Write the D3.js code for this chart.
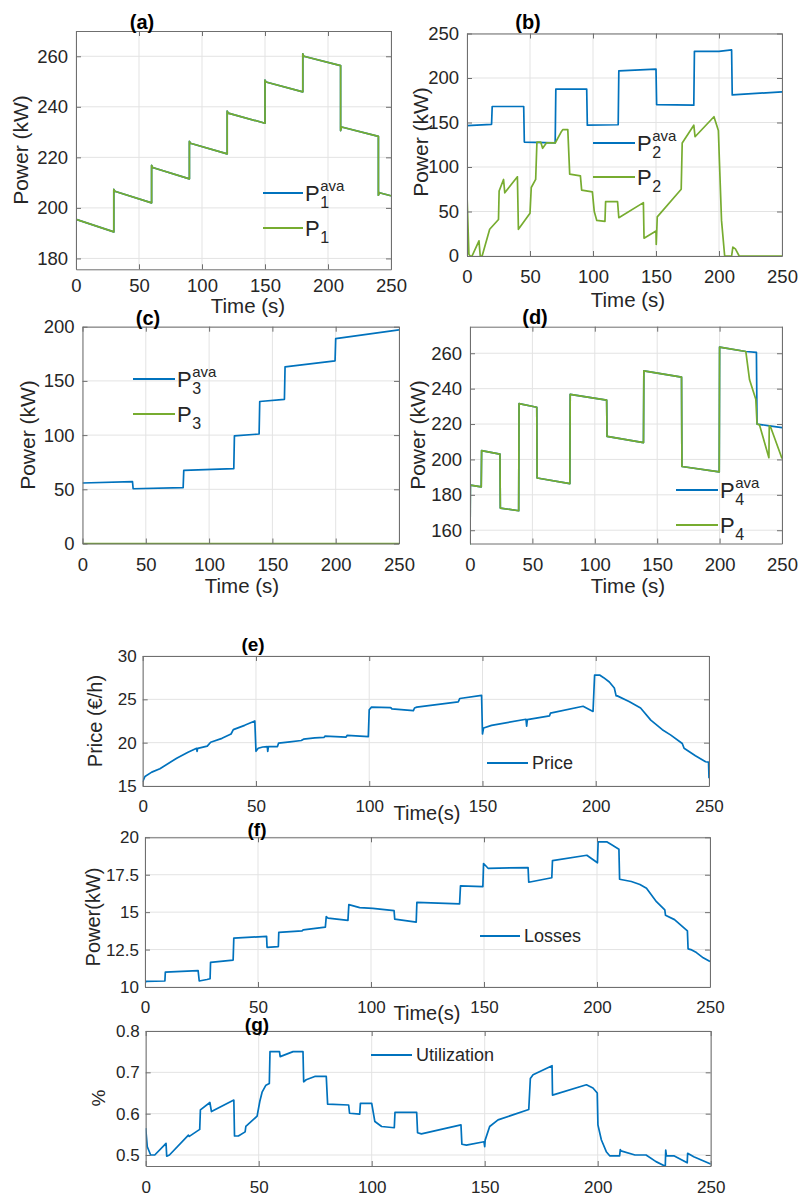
<!DOCTYPE html>
<html>
<head>
<meta charset="utf-8">
<script src="https://cdn.jsdelivr.net/npm/d3@7"></script>
<style>
  body { margin: 0; background: #fff; }
  svg text { font-family: "Liberation Sans", Arial, Helvetica, sans-serif; fill: #262626; }
</style>
</head>
<body>
<svg id="chart" width="798" height="1197"></svg>
<script>
// ---- data (time in s, value) ----
const xTicks = [0, 50, 100, 150, 200, 250];

const yTicksA = [180, 200, 220, 240, 260];
const yTicksB = [0, 50, 100, 150, 200, 250];
const yTicksC = [0, 50, 100, 150, 200];
const yTicksD = [160, 180, 200, 220, 240, 260];
const yTicksE = [15, 20, 25, 30];
const yTicksF = [10, 12.5, 15, 17.5, 20];
const yTicksG = [0.5, 0.6, 0.7, 0.8];

const p1Ava = [[0,195.5],[30,190.5],[30,207.3],[30.8,206.6],[60,202],[60,216.8],[60.8,216],[90,211.5],[90,226.3],[90.8,225.6],[120,221.4],[120,238.3],[120.8,237.5],[150,233.5],[150,250.6],[150.8,249.8],[180,245.9],[180,261],[180.8,260],[210,256.3],[210,230.6],[210.8,232],[240,228.3],[240,205],[240.8,206],[250,204.8]];
const p1 = [[0,195.5],[30,190.5],[30,207.3],[30.8,206.6],[60,202],[60,216.8],[60.8,216],[90,211.5],[90,226.3],[90.8,225.6],[120,221.4],[120,238.3],[120.8,237.5],[150,233.5],[150,250.6],[150.8,249.8],[180,245.9],[180,261],[180.8,260],[210,256.3],[210,230.6],[210.8,232],[240,228.3],[240,205],[240.8,206],[250,204.8]];

const p2Ava = [[0,146.5],[19.5,148],[20,168],[45,168],[45.5,128],[70,127],[70.5,187.5],[95,187.5],[95.5,147],[120,147.5],[120.5,208],[150,210],[150.5,170],[180,169.5],[180.5,230],[200,230],[210,231.5],[210.5,181],[250,184.5]];
const p2 = [[0,70],[1.5,2],[2.5,0],[4,0],[9.5,17],[10.5,0],[12,0],[18,30],[25,41],[25.5,73],[29,86],[30,71],[40,89],[40.8,30],[50,48],[51,77],[54.5,86],[55.5,128],[58.5,128],[60,121],[63,127],[70,127],[75,140],[76,142],[80,142],[81.5,92],[90,90],[91,74],[99.5,72],[101,50],[103,40],[109.5,39],[110,61],[119.5,61],[120.5,43],[140,60],[140.5,20],[150,28],[150.2,13],[151,44],[170,75],[170.8,127],[180,147],[181,134],[196,156.5],[199.5,141],[200.5,100],[202,40],[204.5,0],[210,0],[211,10],[213,8],[216,0],[250,0]];

const p3Ava = [[0,55.8],[39.5,57],[40,50.5],[79.5,51.5],[80,67.5],[119.5,69],[120,99.3],[139.5,101],[140,131],[159.5,133],[160,163],[199.5,168.5],[200,189],[250,197]];
const p3 = [[0,0],[250,0]];

const p4Ava = [[0,150],[0.3,185.5],[9,184.5],[9.3,205],[24,203],[24.3,172.5],[39,171],[39.3,231.5],[53.5,229.5],[53.8,189.5],[80,186.3],[80.3,236.8],[109.5,233.5],[109.8,213],[139,209.5],[139.3,250],[169.5,246.5],[169.8,196],[199.7,193],[200,263.5],[221,261],[229.5,260.5],[230,220],[240,219],[250,218]];
const p4 = [[0,150],[0.3,185.5],[9,184.5],[9.3,205],[24,203],[24.3,172.5],[39,171],[39.3,231.5],[53.5,229.5],[53.8,189.5],[80,186.3],[80.3,236.8],[109.5,233.5],[109.8,213],[139,209.5],[139.3,250],[169.5,246.5],[169.8,196],[199.7,193],[200,263.5],[221,261],[224,245],[229,234],[230,220],[232,219.5],[239.5,201],[239.8,219],[241,218],[250,200.5]];

const price = [[0,15.5],[1,16.1],[4,16.6],[7.6,17.0],[15,18.2],[20,18.9],[23.8,19.35],[24,19.0],[24.3,19.35],[28.5,19.6],[30,20.05],[35,20.5],[39,21.0],[40,21.5],[45,22.0],[49.5,22.5],[50,19.0],[51,19.35],[53,19.5],[55,19.55],[55.2,19.0],[55.5,19.55],[59.5,19.55],[60,19.95],[65,20.1],[70,20.25],[71,20.4],[76,20.55],[80,20.6],[80.5,20.75],[89.8,20.65],[90.3,20.85],[99.6,20.7],[100,23.8],[101,24.1],[109.5,24.05],[110,23.9],[119.5,23.7],[120,24.0],[121,24.1],[139.3,24.7],[140,25.1],[149.6,25.45],[150,21.0],[150.5,21.7],[154,22.0],[169.2,22.7],[169.5,21.9],[169.8,22.65],[179.6,23.1],[180,23.4],[194.4,24.2],[198.8,23.6],[199.5,27.8],[201.7,27.8],[203.5,27.5],[206,27.0],[208.2,26.3],[209,25.4],[209.5,25.4],[214.7,24.75],[219.8,24.0],[224.3,22.6],[229.4,21.5],[233,20.9],[238.2,19.9],[239,19.35],[244,18.5],[248.5,17.8],[249.8,17.75],[250,15.9]];

const losses = [[0,10.2],[0.3,10.37],[8.8,10.4],[9,11.0],[23.5,11.1],[24,10.4],[27.4,10.5],[28.8,10.55],[29,11.64],[39,11.8],[39.3,13.27],[53.8,13.38],[54,12.65],[59,12.7],[59.2,13.65],[69.5,13.75],[70,13.82],[79.8,14.0],[80.2,14.7],[81,14.6],[89.8,14.45],[90.2,15.5],[95,15.3],[100.8,15.25],[110.2,15.1],[110.5,14.53],[120,14.33],[120.3,15.65],[139.2,15.55],[139.6,16.76],[149.5,16.7],[149.8,18.25],[151.8,17.93],[169.5,17.98],[169.8,17.0],[180,17.3],[180.3,18.44],[195.5,18.8],[200.2,18.3],[200.5,19.7],[204.3,19.7],[206.5,19.5],[209.7,19.2],[210,17.2],[215.2,17.05],[219,16.85],[221.9,16.6],[226.3,15.7],[230,15.15],[230.3,14.8],[234.3,14.5],[240,13.75],[240.3,12.55],[241.5,12.5],[244,12.3],[247,11.95],[250,11.7]];

const utilization = [[0,0.565],[0.7,0.52],[2.2,0.5],[4,0.5],[9,0.528],[9.3,0.497],[10.5,0.5],[18.9,0.548],[19.3,0.545],[23.9,0.562],[24.2,0.609],[28.4,0.627],[29.1,0.605],[39,0.633],[39.3,0.546],[41,0.546],[44,0.556],[44.3,0.569],[49.3,0.594],[50.5,0.63],[51.5,0.652],[53.2,0.669],[54.7,0.673],[55,0.75],[59.2,0.75],[59.5,0.738],[65.2,0.75],[69.6,0.75],[69.9,0.677],[71,0.682],[74.8,0.69],[79.9,0.69],[80.5,0.623],[89.8,0.621],[90.2,0.601],[94.7,0.599],[95,0.625],[100,0.625],[101.4,0.581],[104.4,0.569],[110,0.566],[110.3,0.603],[119.9,0.603],[120.3,0.554],[122,0.551],[139.5,0.573],[139.9,0.526],[141.9,0.524],[149.7,0.532],[150,0.52],[150.2,0.536],[152.2,0.569],[155.9,0.585],[169.5,0.61],[170.2,0.685],[171.4,0.694],[179.8,0.716],[180,0.645],[195,0.67],[197.9,0.662],[199.8,0.65],[200.1,0.573],[201.6,0.537],[203.8,0.508],[205.3,0.498],[209.7,0.498],[210,0.513],[210.3,0.51],[216.5,0.5],[221.4,0.5],[225.8,0.484],[229.9,0.473],[230.1,0.512],[230.4,0.498],[233.7,0.498],[239.6,0.481],[239.8,0.504],[242.5,0.496],[249.2,0.48],[250,0.478]];

const blue = "#0072BD",
  green = "#77AC30";

// ---- layout of the seven panels ----
const panels = [
  {
    id: "a", box: [76, 31, 391, 269.3], yDomain: [175.7, 270], yTicks: yTicksA,
    tickSize: 18.5, xPad: 10, yPad: 8,
    title: { text: "(a)", x: 142, y: 22, size: 20 },
    yLabel: { text: "Power (kW)", x: 20, y: 150, size: 21 },
    xLabel: { text: "Time (s)", x: 248, y: 305, size: 20.5 },
    series: [{ data: p1Ava, color: blue }, { data: p1, color: green }],
    legend: { x: 263, y: 193, dy: 35, len: 40, items: [
      { name: "P", sup: "ava", sub: "1", color: blue },
      { name: "P", sub: "1", color: green }] },
  },
  {
    id: "b", box: [467, 33.5, 782, 256], yDomain: [0, 250], yTicks: yTicksB,
    tickSize: 18.5, xPad: 14, yPad: 8,
    title: { text: "(b)", x: 528, y: 22, size: 20 },
    yLabel: { text: "Power (kW)", x: 420, y: 142, size: 21 },
    xLabel: { text: "Time (s)", x: 628, y: 299, size: 20.5 },
    series: [{ data: p2Ava, color: blue }, { data: p2, color: green }],
    legend: { x: 593, y: 143, dy: 34, len: 42, items: [
      { name: "P", sup: "ava", sub: "2", color: blue },
      { name: "P", sub: "2", color: green }] },
  },
  {
    id: "c", box: [82.5, 326.7, 399, 543.5], yDomain: [0, 200], yTicks: yTicksC,
    tickSize: 18.5, xPad: 14, yPad: 8,
    title: { text: "(c)", x: 148, y: 318, size: 20 },
    yLabel: { text: "Power (kW)", x: 27, y: 435, size: 21 },
    xLabel: { text: "Time (s)", x: 242, y: 585, size: 20.5 },
    series: [{ data: p3Ava, color: blue }, { data: p3, color: green }],
    legend: { x: 133, y: 379, dy: 35, len: 42, items: [
      { name: "P", sup: "ava", sub: "3", color: blue },
      { name: "P", sub: "3", color: green }] },
  },
  {
    id: "d", box: [470, 326.7, 782, 543.5], yDomain: [152.5, 275], yTicks: yTicksD,
    tickSize: 18.5, xPad: 14, yPad: 8,
    title: { text: "(d)", x: 535, y: 317, size: 20 },
    yLabel: { text: "Power (kW)", x: 417, y: 435, size: 21 },
    xLabel: { text: "Time (s)", x: 628, y: 585, size: 20.5 },
    series: [{ data: p4Ava, color: blue }, { data: p4, color: green }],
    legend: { x: 676, y: 490, dy: 35, len: 42, items: [
      { name: "P", sup: "ava", sub: "4", color: blue },
      { name: "P", sub: "4", color: green }] },
  },
  {
    id: "e", box: [142.7, 656, 709, 786], yDomain: [15, 30], yTicks: yTicksE,
    tickSize: 17, xPad: 13.5, yPad: 6,
    title: { text: "(e)", x: 253, y: 644, size: 19 },
    yLabel: { text: "Price (€/h)", x: 95, y: 721, size: 20 },
    xLabel: { text: "Time(s)", x: 427, y: 813, size: 20 },
    series: [{ data: price, color: blue }],
    legend: { x: 487, y: 763, dy: 0, len: 41, items: [{ name: "Price", color: blue }] },
  },
  {
    id: "f", box: [145, 837.3, 710, 987], yDomain: [10, 20], yTicks: yTicksF,
    tickSize: 17, xPad: 13.5, yPad: 6,
    title: { text: "(f)", x: 257, y: 829, size: 19 },
    yLabel: { text: "Power(kW)", x: 93, y: 917, size: 20 },
    xLabel: { text: "Time(s)", x: 427, y: 1013, size: 20 },
    series: [{ data: losses, color: blue }],
    legend: { x: 480, y: 936, dy: 0, len: 40, items: [{ name: "Losses", color: blue }] },
  },
  {
    id: "g", box: [145.7, 1031, 710.7, 1166], yDomain: [0.4734, 0.8], yTicks: yTicksG,
    tickSize: 17, xPad: 14.5, yPad: 6,
    title: { text: "(g)", x: 257, y: 1024, size: 19 },
    yLabel: { text: "%", x: 98, y: 1098, size: 19 },
    xLabel: null,
    series: [{ data: utilization, color: blue }],
    legend: { x: 371, y: 1055, dy: 0, len: 41, items: [{ name: "Utilization", color: blue }] },
  },
];

const svg = d3.select("#chart");

function drawPanel(p) {
  const [left, top, right, bottom] = p.box;
  const x = d3.scaleLinear().domain([0, 250]).range([left, right]);
  const y = d3.scaleLinear().domain(p.yDomain).range([bottom, top]);
  const g = svg.append("g").attr("class", "panel_" + p.id);

  // grid
  g.append("g")
    .selectAll("line.vgrid")
    .data(xTicks)
    .join("line")
    .attr("x1", (d) => x(d))
    .attr("x2", (d) => x(d))
    .attr("y1", top)
    .attr("y2", bottom)
    .attr("stroke", "#e3e3e3")
    .attr("stroke-width", 1);

  g.append("g")
    .selectAll("line.hgrid")
    .data(p.yTicks)
    .join("line")
    .attr("x1", left)
    .attr("x2", right)
    .attr("y1", (d) => y(d))
    .attr("y2", (d) => y(d))
    .attr("stroke", "#e3e3e3")
    .attr("stroke-width", 1);

  // data lines, clipped to the axes box
  const clipId = "clip_" + p.id;
  svg
    .append("clipPath")
    .attr("id", clipId)
    .append("rect")
    .attr("x", left)
    .attr("y", top - 1)
    .attr("width", right - left)
    .attr("height", bottom - top + 2);

  const line = d3
    .line()
    .x((d) => x(d[0]))
    .y((d) => y(d[1]));

  g.append("g")
    .attr("clip-path", `url(#${clipId})`)
    .selectAll("path")
    .data(p.series)
    .join("path")
    .attr("d", (s) => line(s.data))
    .attr("fill", "none")
    .attr("stroke", (s) => s.color)
    .attr("stroke-width", 1.7)
    .attr("stroke-linejoin", "round");

  // axes: ticks point inward, mirrored on top and right
  const tick = 5;
  const styleAxis = (sel, size) => {
    sel.selectAll("path.domain").attr("stroke", "#6f6f6f").attr("stroke-width", 1);
    sel.selectAll(".tick line").attr("stroke", "#6f6f6f");
    sel.selectAll("text").attr("font-size", size).attr("fill", "#262626")
      .style("font-family", '"Liberation Sans", Arial, sans-serif');
  };

  g.append("g")
    .attr("transform", `translate(0,${bottom})`)
    .call(d3.axisBottom(x).tickValues(xTicks).tickSizeInner(-tick).tickSizeOuter(0).tickPadding(p.xPad))
    .call((a) => styleAxis(a, p.tickSize));

  g.append("g")
    .attr("transform", `translate(0,${top})`)
    .call(d3.axisTop(x).tickValues(xTicks).tickSizeInner(-tick).tickSizeOuter(0).tickFormat(""))
    .call((a) => styleAxis(a, p.tickSize));

  g.append("g")
    .attr("transform", `translate(${left},0)`)
    .call(d3.axisLeft(y).tickValues(p.yTicks).tickSizeInner(-tick).tickSizeOuter(0)
      .tickPadding(p.yPad).tickFormat((d) => String(d)))
    .call((a) => styleAxis(a, p.tickSize));

  g.append("g")
    .attr("transform", `translate(${right},0)`)
    .call(d3.axisRight(y).tickValues(p.yTicks).tickSizeInner(-tick).tickSizeOuter(0).tickFormat(""))
    .call((a) => styleAxis(a, p.tickSize));

  // title
  g.append("text")
    .attr("x", p.title.x)
    .attr("y", p.title.y)
    .attr("text-anchor", "middle")
    .attr("dominant-baseline", "central")
    .attr("font-size", p.title.size)
    .attr("font-weight", "bold")
    .style("fill", "#000")
    .text(p.title.text);

  // axis labels
  g.append("text")
    .attr("transform", `translate(${p.yLabel.x},${p.yLabel.y}) rotate(-90)`)
    .attr("text-anchor", "middle")
    .attr("dominant-baseline", "central")
    .attr("font-size", p.yLabel.size)
    .text(p.yLabel.text);

  if (p.xLabel) {
    g.append("text")
      .attr("x", p.xLabel.x)
      .attr("y", p.xLabel.y)
      .attr("text-anchor", "middle")
      .attr("dominant-baseline", "central")
      .attr("font-size", p.xLabel.size)
      .text(p.xLabel.text);
  }

  // legend (no box)
  const lg = g.append("g").attr("class", "legend");
  p.legend.items.forEach((item, i) => {
    const ly = p.legend.y + i * p.legend.dy;
    const lx = p.legend.x;
    lg.append("line")
      .attr("x1", lx)
      .attr("x2", lx + p.legend.len)
      .attr("y1", ly)
      .attr("y2", ly)
      .attr("stroke", item.color)
      .attr("stroke-width", 2);

    const tx = lx + p.legend.len + 2;
    if (item.sub) {
      const main = lg.append("text")
        .attr("x", tx)
        .attr("y", ly + 8)
        .attr("font-size", 22)
        .text(item.name);
      const w = main.node().getComputedTextLength();
      if (item.sup) {
        lg.append("text")
          .attr("x", tx + w + 0.5)
          .attr("y", ly - 2)
          .attr("font-size", 15)
          .text(item.sup);
      }
      lg.append("text")
        .attr("x", tx + w + 0.5)
        .attr("y", ly + 15)
        .attr("font-size", 16)
        .text(item.sub);
    } else {
      lg.append("text")
        .attr("x", tx + 2)
        .attr("y", ly)
        .attr("dominant-baseline", "central")
        .attr("font-size", 18)
        .text(item.name);
    }
  });
}

panels.forEach(drawPanel);
</script>
</body>
</html>
